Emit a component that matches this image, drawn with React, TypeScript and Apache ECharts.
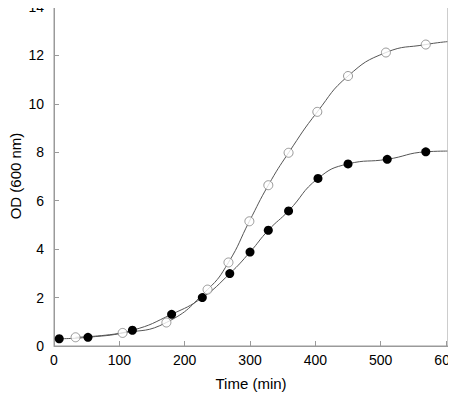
import React, { useEffect, useRef } from "react";
import * as echarts from "echarts";

const xTicks = [0, 100, 200, 300, 400, 500, 600];
const yTicks = [0, 2, 4, 6, 8, 10, 12, 14];
const xTitle = "Time (min)";
const yTitle = "OD (600 nm)";

const openTime = [33, 105, 172, 235, 267, 299, 328, 359, 403, 450, 508, 569];
const openOD = [0.36, 0.54, 0.97, 2.33, 3.45, 5.15, 6.64, 7.98, 9.67, 11.15, 12.12, 12.45];
const openCurveEnd = [602, 12.57];

const filledTime = [8, 52, 120, 180, 227, 269, 300, 328, 359, 404, 450, 510, 569];
const filledOD = [0.3, 0.36, 0.65, 1.31, 2.0, 2.99, 3.88, 4.78, 5.58, 6.92, 7.52, 7.71, 8.02];
const filledCurveEnd = [602, 8.05];

export default function App() {
  const ref = useRef<HTMLDivElement>(null);
  useEffect(() => {
    if (!ref.current) return;
    const chart = echarts.init(ref.current, null, { renderer: "svg" });
    const openPts = openTime.map((t, i) => [t, openOD[i]]);
    const filledPts = filledTime.map((t, i) => [t, filledOD[i]]);
    const font = "Liberation Sans, Arial, sans-serif";
    chart.setOption({
      animation: false,
      grid: {
        left: 54,
        right: 8,
        top: 7,
        bottom: 50,
        show: true,
        borderColor: "#9a9a9a",
        borderWidth: 1,
        backgroundColor: "transparent",
        containLabel: false,
        outerBoundsMode: "none",
      },
      graphic: [
        {
          type: "text",
          x: 15,
          y: 176,
          rotation: Math.PI / 2,
          style: {
            text: yTitle,
            fill: "#000",
            fontSize: 15,
            fontFamily: font,
            align: "center",
            verticalAlign: "middle",
          },
        },
      ],
      xAxis: {
        type: "value",
        min: 0,
        max: 603,
        interval: 100,
        name: xTitle,
        nameLocation: "middle",
        nameGap: 30,
        nameTextStyle: { color: "#000", fontSize: 15, fontFamily: font },
        axisLine: { lineStyle: { color: "#9a9a9a" } },
        axisTick: { inside: true, length: 5, lineStyle: { color: "#9a9a9a" } },
        axisLabel: {
          color: "#000",
          fontSize: 14,
          fontFamily: font,
          margin: 7,
          hideOverlap: false,
          formatter: (v: number) => (xTicks.includes(v) ? String(v) : ""),
        },
        splitLine: { show: false },
      },
      yAxis: {
        type: "value",
        min: 0,
        max: 14,
        interval: 2,
        axisLine: { lineStyle: { color: "#9a9a9a" } },
        axisTick: { inside: true, length: 5, lineStyle: { color: "#9a9a9a" } },
        axisLabel: {
          color: "#000",
          fontSize: 14,
          fontFamily: font,
          margin: 10,
          verticalAlign: "middle",
          formatter: (v: number) => (yTicks.includes(v) ? String(v) : ""),
        },
        splitLine: { show: false },
      },
      series: [
        {
          type: "line",
          data: [...openPts, openCurveEnd],
          smooth: 0.5,
          showSymbol: false,
          lineStyle: { color: "#555", width: 1 },
          z: 1,
        },
        {
          type: "line",
          data: [...filledPts, filledCurveEnd],
          smooth: 0.5,
          showSymbol: false,
          lineStyle: { color: "#555", width: 1 },
          z: 1,
        },
        {
          type: "scatter",
          data: openPts,
          symbol: "circle",
          symbolSize: 9,
          itemStyle: { color: "#fff", borderColor: "#808080", borderWidth: 1 },
          z: 3,
        },
        {
          type: "scatter",
          data: filledPts,
          symbol: "circle",
          symbolSize: 9,
          itemStyle: { color: "#000", opacity: 1 },
          z: 4,
        },
      ],
    });
    return () => chart.dispose();
  }, []);
  return <div ref={ref} style={{ width: 456, height: 396, marginLeft: -8, marginTop: -8 }} />;
}
